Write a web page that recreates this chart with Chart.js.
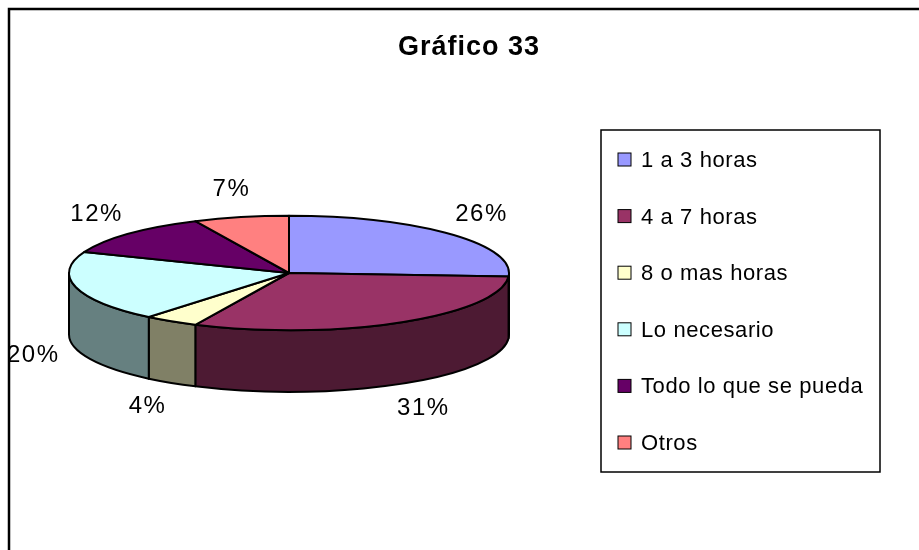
<!DOCTYPE html>
<html>
<head>
<meta charset="utf-8">
<script src="https://cdn.jsdelivr.net/npm/chart.js@4"></script>
<style>
  html, body { margin: 0; padding: 0; background: #fff; }
  canvas { display: block; }
</style>
</head>
<body>
<canvas id="chart-horas" width="919" height="550"></canvas>
<script>
const titulo = 'Gráfico 33';
const categorias = ['1 a 3 horas', '4 a 7 horas', '8 o mas horas', 'Lo necesario', 'Todo lo que se pueda', 'Otros'];
const valores = [26, 31, 4, 20, 12, 7];
const coloresTapa = ['#9999FF', '#993366', '#FFFFCC', '#CCFFFF', '#660066', '#FF8080'];
const coloresLado = ['#4D4D80', '#4D1A33', '#808066', '#668080', '#330033', '#804040'];

const FONT = "'Liberation Sans', Arial, sans-serif";

// pie 3D: aplasta el circulo de Chart.js y le pone la pared delantera
const pie3d = {
  id: 'pie3d',
  beforeDatasetsDraw(chart) {
    const ctx = chart.ctx;
    const arcs = chart.getDatasetMeta(0).data;
    if (!arcs.length) return false;
    const cx = arcs[0].x, cy = arcs[0].y;
    const rx = arcs[0].outerRadius;
    const ry = rx * 0.26;
    const depth = rx * 0.28;

    ctx.save();
    ctx.lineWidth = 2;
    ctx.strokeStyle = '#000';
    ctx.lineJoin = 'round';

    // paredes (solo la mitad de delante, angulos 0..PI)
    arcs.forEach((a, i) => {
      const s = Math.max(a.startAngle, 0);
      const e = Math.min(a.endAngle, Math.PI);
      if (e <= s) return;
      ctx.beginPath();
      ctx.ellipse(cx, cy, rx, ry, 0, s, e, false);
      ctx.lineTo(cx + rx * Math.cos(e), cy + ry * Math.sin(e) + depth);
      ctx.ellipse(cx, cy + depth, rx, ry, 0, e, s, true);
      ctx.closePath();
      ctx.fillStyle = coloresLado[i];
      ctx.fill();
      ctx.stroke();
    });

    // tapas
    arcs.forEach((a, i) => {
      ctx.beginPath();
      ctx.moveTo(cx, cy);
      ctx.ellipse(cx, cy, rx, ry, 0, a.startAngle, a.endAngle, false);
      ctx.closePath();
      ctx.fillStyle = coloresTapa[i];
      ctx.fill();
      ctx.stroke();
    });

    // etiquetas de porcentaje
    const total = valores.reduce((t, v) => t + v, 0);
    ctx.fillStyle = '#000';
    ctx.font = '24px ' + FONT;
    ctx.letterSpacing = '1.5px';
    ctx.textAlign = 'center';
    ctx.textBaseline = 'middle';
    arcs.forEach((a, i) => {
      const m = (a.startAngle + a.endAngle) / 2;
      const x = cx + rx * 1.2 * Math.cos(m);
      const y = cy + ry * 1.49 * Math.sin(m) + (Math.sin(m) > 0 ? depth : 0);
      ctx.fillText(Math.round(valores[i] / total * 100) + '%', x, y);
    });

    ctx.restore();
    return false;
  },
  afterDraw(chart) {
    const ctx = chart.ctx;
    ctx.save();

    // marco exterior
    ctx.strokeStyle = '#000';
    ctx.lineWidth = 2.5;
    ctx.beginPath();
    ctx.moveTo(9, 550);
    ctx.lineTo(9, 9);
    ctx.lineTo(919, 9);
    ctx.stroke();

    // titulo
    ctx.fillStyle = '#000';
    ctx.font = 'bold 27px ' + FONT;
    ctx.letterSpacing = '1px';
    ctx.textAlign = 'center';
    ctx.textBaseline = 'middle';
    ctx.fillText(titulo, 469, 48);

    // leyenda
    ctx.lineWidth = 1.5;
    ctx.strokeRect(601, 130, 279, 342);
    ctx.font = '22px ' + FONT;
    ctx.letterSpacing = '0.6px';
    ctx.textAlign = 'left';
    categorias.forEach((c, i) => {
      const y = 160 + i * 56.6;
      ctx.fillStyle = coloresTapa[i];
      ctx.fillRect(618, y - 7, 13, 13);
      ctx.lineWidth = 1;
      ctx.strokeRect(618, y - 7, 13, 13);
      ctx.fillStyle = '#000';
      ctx.fillText(c, 641, y + 1);
    });

    ctx.restore();
  }
};

new Chart(document.getElementById('chart-horas'), {
  type: 'pie',
  data: {
    labels: categorias,
    datasets: [{
      data: valores,
      backgroundColor: coloresTapa,
      borderWidth: 0
    }]
  },
  options: {
    responsive: false,
    animation: false,
    devicePixelRatio: 1,
    layout: { padding: { left: 69, right: 410, top: 53, bottom: 57 } },
    plugins: { legend: { display: false }, tooltip: { enabled: false }, title: { display: false } }
  },
  plugins: [pie3d]
});
</script>
</body>
</html>
